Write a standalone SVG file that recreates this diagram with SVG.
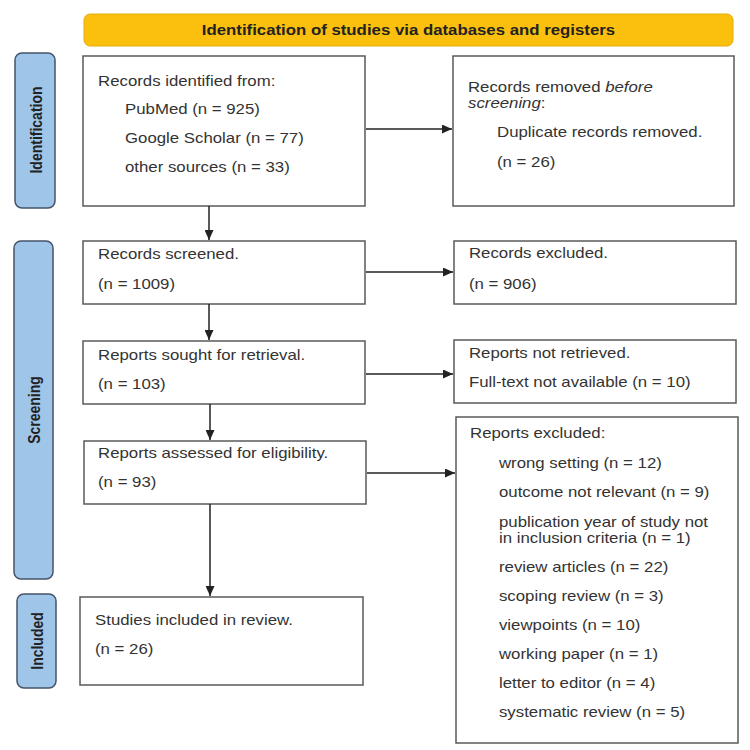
<svg xmlns="http://www.w3.org/2000/svg" width="750" height="750" viewBox="0 0 750 750">
<defs>
<style>
.box{fill:#fff;stroke:#595959;stroke-width:1.5}
.side{fill:#9fc5e8;stroke:#44546a;stroke-width:1.5}
.hdr{fill:#fbc00d;stroke:#e3ac0a;stroke-width:1}
text{font-family:"Liberation Sans",Arial,sans-serif;font-size:14px;fill:#333}
.b{font-weight:bold;fill:#222}
.lbl{font-weight:bold;fill:#222;text-anchor:middle}
.con{stroke:#222;stroke-width:1.5;fill:none;marker-end:url(#ah)}
</style>
<marker id="ah" markerUnits="userSpaceOnUse" markerWidth="10" markerHeight="9" refX="10" refY="4.5" orient="auto">
<path d="M0,0 L10,4.5 L0,9 Z" fill="#222"/>
</marker>
</defs>
<rect width="750" height="750" fill="#fff"/>

<g id="header">
<rect class="hdr" x="84" y="14" width="649" height="32" rx="6"/>
<g transform="scale(1.2 1)"><text class="b" x="340.4" y="35" text-anchor="middle">Identification of studies via databases and registers</text></g>
</g>

<g id="label-identification">
<rect class="side" x="15" y="53" width="40" height="155" rx="7"/>
<text class="lbl" transform="translate(41.5 130) scale(1.2 1) rotate(-90)">Identification</text>
</g>
<g id="label-screening">
<rect class="side" x="14" y="241" width="39" height="338" rx="7"/>
<text class="lbl" transform="translate(39.5 410) scale(1.2 1) rotate(-90)">Screening</text>
</g>
<g id="label-included">
<rect class="side" x="17" y="594" width="39" height="94" rx="7"/>
<text class="lbl" transform="translate(42.5 641) scale(1.2 1) rotate(-90)">Included</text>
</g>

<g id="records-identified">
<rect class="box" x="83" y="56" width="282" height="150"/>
<g transform="scale(1.2 1)">
<text x="81.7" y="86">Records identified from:</text>
<text x="104.2" y="114">PubMed (n = 925)</text>
<text x="104.2" y="143">Google Scholar (n = 77)</text>
<text x="104.2" y="172">other sources (n = 33)</text>
</g>
</g>

<g id="records-removed">
<rect class="box" x="453" y="56" width="281" height="150"/>
<g transform="scale(1.2 1)">
<text x="390" y="92">Records removed <tspan font-style="italic">before</tspan></text>
<text x="390" y="108"><tspan font-style="italic">screening</tspan>:</text>
<text x="414.2" y="137">Duplicate records removed.</text>
<text x="414.2" y="167">(n = 26)</text>
</g>
</g>

<g id="records-screened">
<rect class="box" x="83" y="241" width="282" height="63"/>
<g transform="scale(1.2 1)">
<text x="81.7" y="259">Records screened.</text>
<text x="81.7" y="289">(n = 1009)</text>
</g>
</g>

<g id="records-excluded">
<rect class="box" x="454" y="241" width="282" height="63"/>
<g transform="scale(1.2 1)">
<text x="390.8" y="258">Records excluded.</text>
<text x="390.8" y="289">(n = 906)</text>
</g>
</g>

<g id="reports-sought">
<rect class="box" x="83" y="341" width="282" height="63"/>
<g transform="scale(1.2 1)">
<text x="81.7" y="360">Reports sought for retrieval.</text>
<text x="81.7" y="389">(n = 103)</text>
</g>
</g>

<g id="reports-not-retrieved">
<rect class="box" x="454" y="340" width="282" height="63"/>
<g transform="scale(1.2 1)">
<text x="390.8" y="358">Reports not retrieved.</text>
<text x="390.8" y="387">Full-text not available (n = 10)</text>
</g>
</g>

<g id="reports-assessed">
<rect class="box" x="84" y="441" width="282" height="63"/>
<g transform="scale(1.2 1)">
<text x="81.7" y="458">Reports assessed for eligibility.</text>
<text x="81.7" y="487">(n = 93)</text>
</g>
</g>

<g id="reports-excluded">
<rect class="box" x="456" y="417" width="282" height="326"/>
<g transform="scale(1.2 1)">
<text x="391.7" y="438">Reports excluded:</text>
<text x="415.8" y="468">wrong setting (n = 12)</text>
<text x="415.8" y="497">outcome not relevant (n = 9)</text>
<text x="415.8" y="527">publication year of study not</text>
<text x="415.8" y="543">in inclusion criteria (n = 1)</text>
<text x="415.8" y="572">review articles (n = 22)</text>
<text x="415.8" y="601">scoping review (n = 3)</text>
<text x="415.8" y="630">viewpoints (n = 10)</text>
<text x="415.8" y="659">working paper (n = 1)</text>
<text x="415.8" y="688">letter to editor (n = 4)</text>
<text x="415.8" y="717">systematic review (n = 5)</text>
</g>
</g>

<g id="studies-included">
<rect class="box" x="80" y="597" width="283" height="88"/>
<g transform="scale(1.2 1)">
<text x="79.2" y="625">Studies included in review.</text>
<text x="79.2" y="654">(n = 26)</text>
</g>
</g>

<g id="connectors">
<line class="con" x1="366" y1="129" x2="452" y2="129"/>
<line class="con" x1="209" y1="206" x2="209" y2="240"/>
<line class="con" x1="366" y1="272" x2="453" y2="272"/>
<line class="con" x1="209" y1="304" x2="209" y2="340"/>
<line class="con" x1="366" y1="374" x2="453" y2="374"/>
<line class="con" x1="210" y1="404" x2="210" y2="440"/>
<line class="con" x1="367" y1="473" x2="455" y2="473"/>
<line class="con" x1="210" y1="504" x2="210" y2="596"/>
</g>
</svg>
